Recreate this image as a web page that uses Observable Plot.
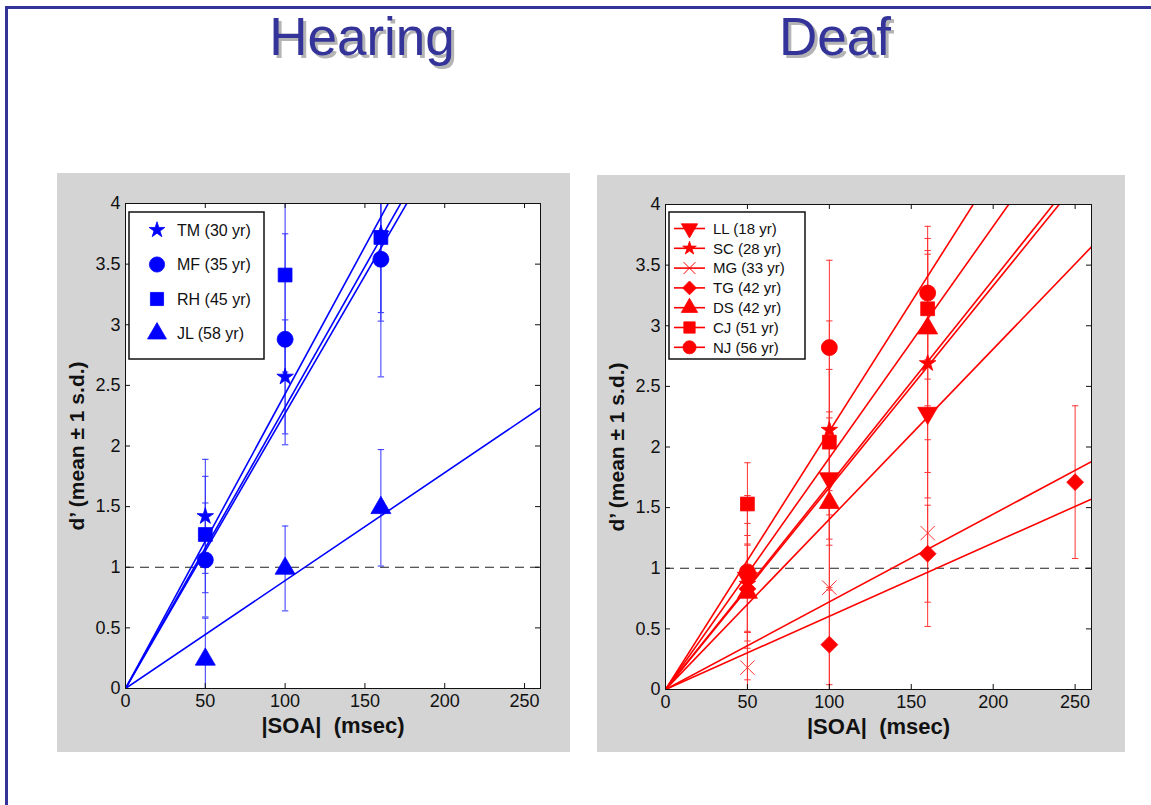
<!DOCTYPE html>
<html>
<head>
<meta charset="utf-8">
<script src="https://cdn.jsdelivr.net/npm/d3@7"></script>
<script src="https://cdn.jsdelivr.net/npm/@observablehq/plot@0.6"></script>
<style>
  html, body { margin: 0; padding: 0; background: #fff; }
  body { width: 1151px; height: 805px; overflow: hidden; position: relative; font-family: "Liberation Sans", Arial, Helvetica, sans-serif; }
  #border { position: absolute; left: 5px; top: 6px; width: 1200px; height: 900px; border-top: 3px solid #333399; border-left: 3px solid #333399; }
  .title { position: absolute; top: 10px; font-size: 53px; line-height: 53px; color: #333399; text-shadow: 3px 3px 0 #b4b4b4; transform: translateX(-50%); white-space: nowrap; }
  .panel { position: absolute; }
  #overlay { position: absolute; left: 0; top: 0; }
</style>
</head>
<body>
<div id="border"></div>
<div class="title" style="left:362px">Hearing</div>
<div class="title" style="left:835px">Deaf</div>
<div id="left" class="panel" style="left:57px;top:173px"></div>
<div id="right" class="panel" style="left:597px;top:175px"></div>
<svg id="overlay" width="1151" height="805"></svg>
<script>
// ---------- data ----------
const xTicks = [0, 50, 100, 150, 200, 250];
const yTicks = [0, 0.5, 1, 1.5, 2, 2.5, 3, 3.5, 4];
const xLabel = "|SOA|\u00a0\u00a0(msec)";
const yLabel = "d\u2019 (mean \u00b1 1 s.d.)";

// Hearing group
const hearingNames   = ["TM (30 yr)", "MF (35 yr)", "RH (45 yr)", "JL (58 yr)"];
const hearingSymbols = ["star", "circle", "square", "triangle"];
const hearingSOA     = [[50, 100, 160], [50, 100, 160], [50, 100, 160], [50, 100, 160]];
const hearingMeans   = [[1.42, 2.57, 3.75], [1.06, 2.88, 3.54], [1.27, 3.41, 3.72], [0.24, 0.99, 1.49]];
const hearingSDs     = [[0.47, 0.47, 0.72], [0.47, 0.87, 0.97], [0.48, 0.80, 0.62], [0.34, 0.35, 0.48]];
const hearingSlopes  = [0.0243, 0.0232, 0.0227, 0.0089];

// Deaf group
const deafNames   = ["LL (18 yr)", "SC (28 yr)", "MG (33 yr)", "TG (42 yr)", "DS (42 yr)", "CJ (51 yr)", "NJ (56 yr)"];
const deafSymbols = ["triangleDown", "star", "times", "diamond", "triangle", "square", "circle"];
const deafSOA     = [[50, 100, 160], [50, 100, 160], [50, 100, 160], [50, 100, 160, 250], [50, 100, 160], [50, 100, 160], [50, 100, 160]];
const deafMeans   = [[0.92, 1.74, 2.28], [0.87, 2.14, 2.69], [0.18, 0.84, 1.29], [0.83, 0.37, 1.12, 1.71], [0.80, 1.54, 2.98], [1.53, 2.04, 3.14], [0.97, 2.82, 3.27]];
const deafSDs     = [[0.45, 0.55, 0.70], [0.40, 0.90, 0.90], [0.30, 0.80, 0.77], [0.75, 0.45, 0.40, 0.63], [0.40, 0.70, 0.64], [0.34, 0.60, 0.58], [0.63, 0.72, 0.55]];
const deafSlopes  = [0.01404, 0.0169, 0.00604, 0.00723, 0.01665, 0.0191, 0.0213];

// ---------- symbols ----------
const triangleDown = {
  draw(ctx, size) {
    const y = -Math.sqrt(size / (Math.sqrt(3) * 3));
    ctx.moveTo(0, -y * 2);
    ctx.lineTo(-Math.sqrt(3) * y, y);
    ctx.lineTo(Math.sqrt(3) * y, y);
    ctx.closePath();
  }
};
const capSymbol = { draw(ctx) { ctx.moveTo(-3.2, 0); ctx.lineTo(3.2, 0); } };
const symbolType = {
  star: d3.symbolStar, circle: d3.symbolCircle, square: d3.symbolSquare,
  triangle: d3.symbolTriangle, triangleDown: triangleDown,
  diamond: d3.symbolDiamond2, times: d3.symbolTimes
};
const symbolR = { star: 5.2, circle: 8, square: 7.8, triangle: 7.4, triangleDown: 7.4, diamond: 7.6, times: 6.6 };

function makePanel({names, syms, soa, means, sds, slopes, color, barColor, width, height, margin}) {
  const rows = [];
  names.forEach((n, i) => soa[i].forEach((x, j) => rows.push({i, x, m: means[i][j], sd: sds[i][j]})));
  const FW = width - margin.left - margin.right;
  const FH = height - margin.top - margin.bottom;
  const marks = [
    Plot.frame({fill: "white"}),
    Plot.ruleX(rows, {x: "x", y1: d => d.m - d.sd, y2: d => d.m + d.sd, stroke: barColor, strokeWidth: 1, clip: true}),
    Plot.dot(rows, {x: "x", y: d => d.m + d.sd, symbol: capSymbol, r: 3, fill: "none", stroke: barColor, strokeWidth: 1, clip: true}),
    Plot.dot(rows, {x: "x", y: d => d.m - d.sd, symbol: capSymbol, r: 3, fill: "none", stroke: barColor, strokeWidth: 1, clip: true}),
    Plot.ruleY([1], {stroke: "#222", strokeDasharray: "9,6", strokeWidth: 1}),
    Plot.link(slopes, {x1: () => 0, y1: () => 0, x2: () => 260, y2: s => s * 260, stroke: color, strokeWidth: 1.6, clip: true})
  ];
  syms.forEach((s, i) => {
    const sub = rows.filter(r => r.i === i);
    const isStroke = s === "times";
    marks.push(Plot.dot(sub, {
      x: "x", y: "m", symbol: symbolType[s], r: symbolR[s],
      fill: isStroke ? "none" : color, stroke: isStroke ? barColor : color, strokeWidth: isStroke ? 1 : 0.8, clip: true
    }));
  });
  marks.push(
    Plot.frame({stroke: "#111", strokeWidth: 1}),
    Plot.tickX(xTicks, {x: d => d, insetTop: FH - 5, stroke: "#111"}),
    Plot.tickX(xTicks, {x: d => d, insetBottom: FH - 5, stroke: "#111"}),
    Plot.tickY(yTicks, {y: d => d, insetRight: FW - 5, stroke: "#111"}),
    Plot.tickY(yTicks, {y: d => d, insetLeft: FW - 5, stroke: "#111"}),
    Plot.axisX({ticks: xTicks, tickSize: 0, tickPadding: 6, fontSize: 18, label: null, fill: "#111"}),
    Plot.axisY({ticks: yTicks, tickSize: 0, tickPadding: 5, fontSize: 18, label: null, fill: "#111", tickFormat: d => String(d)}),
    Plot.text([xLabel], {text: d => d, frameAnchor: "bottom", dy: 37, fontSize: 22, fontWeight: "bold", lineAnchor: "middle", textAnchor: "middle", fill: "#111"}),
    Plot.text([yLabel], {text: d => d, frameAnchor: "left", dx: -48, rotate: -90, fontSize: 21, fontWeight: "bold", lineAnchor: "middle", textAnchor: "middle", fill: "#111"})
  );
  return Plot.plot({
    width, height,
    marginLeft: margin.left, marginRight: margin.right, marginTop: margin.top, marginBottom: margin.bottom,
    x: {domain: [0, 260]},
    y: {domain: [0, 4]},
    style: {background: "#d4d4d4", fontFamily: "'Liberation Sans', Arial, Helvetica, sans-serif", color: "#111", overflow: "visible"},
    marks
  });
}

document.getElementById("left").append(makePanel({
  names: hearingNames, syms: hearingSymbols, soa: hearingSOA, means: hearingMeans, sds: hearingSDs, slopes: hearingSlopes,
  color: "#0000ff", barColor: "#3333ff", width: 513, height: 579, margin: {left: 68, right: 30, top: 30, bottom: 64}
}));
document.getElementById("right").append(makePanel({
  names: deafNames, syms: deafSymbols, soa: deafSOA, means: deafMeans, sds: deafSDs, slopes: deafSlopes,
  color: "#ff0000", barColor: "#ff3333", width: 528, height: 577, margin: {left: 68, right: 34, top: 29, bottom: 63}
}));

// ---------- legends (overlay) ----------
const ov = d3.select("#overlay");
function legend({box, names, syms, color, y0, step, symX, textX, scale, line, fontSize}) {
  const g = ov.append("g");
  g.append("rect").attr("x", box[0]).attr("y", box[1]).attr("width", box[2]).attr("height", box[3])
    .attr("fill", "white").attr("stroke", "#111").attr("stroke-width", 1.5);
  names.forEach((n, i) => {
    const y = y0 + i * step;
    if (line) g.append("line").attr("x1", line[0]).attr("x2", line[1]).attr("y1", y).attr("y2", y)
      .attr("stroke", color).attr("stroke-width", 1.6);
    const s = syms[i];
    const r = symbolR[s] * scale;
    const isStroke = s === "times";
    g.append("path").attr("transform", `translate(${symX},${y})`)
      .attr("d", d3.symbol(symbolType[s], Math.PI * r * r)())
      .attr("fill", isStroke ? "none" : color).attr("stroke", color).attr("stroke-width", isStroke ? 1 : 0.8);
    g.append("text").attr("x", textX).attr("y", y).attr("dy", "0.35em")
      .attr("font-size", fontSize).attr("font-family", "'Liberation Sans', Arial, sans-serif")
      .attr("fill", "#111").text(n);
  });
}
legend({box: [129, 212, 135, 147], names: hearingNames, syms: hearingSymbols, color: "#0000ff",
  y0: 230, step: 34.5, symX: 157, textX: 177, scale: 0.95, line: null, fontSize: 16});
legend({box: [669, 212, 136, 147], names: deafNames, syms: deafSymbols, color: "#ff0000",
  y0: 228.5, step: 19.8, symX: 689.5, textX: 713, scale: 0.82, line: [674, 705], fontSize: 15});
</script>
</body>
</html>
